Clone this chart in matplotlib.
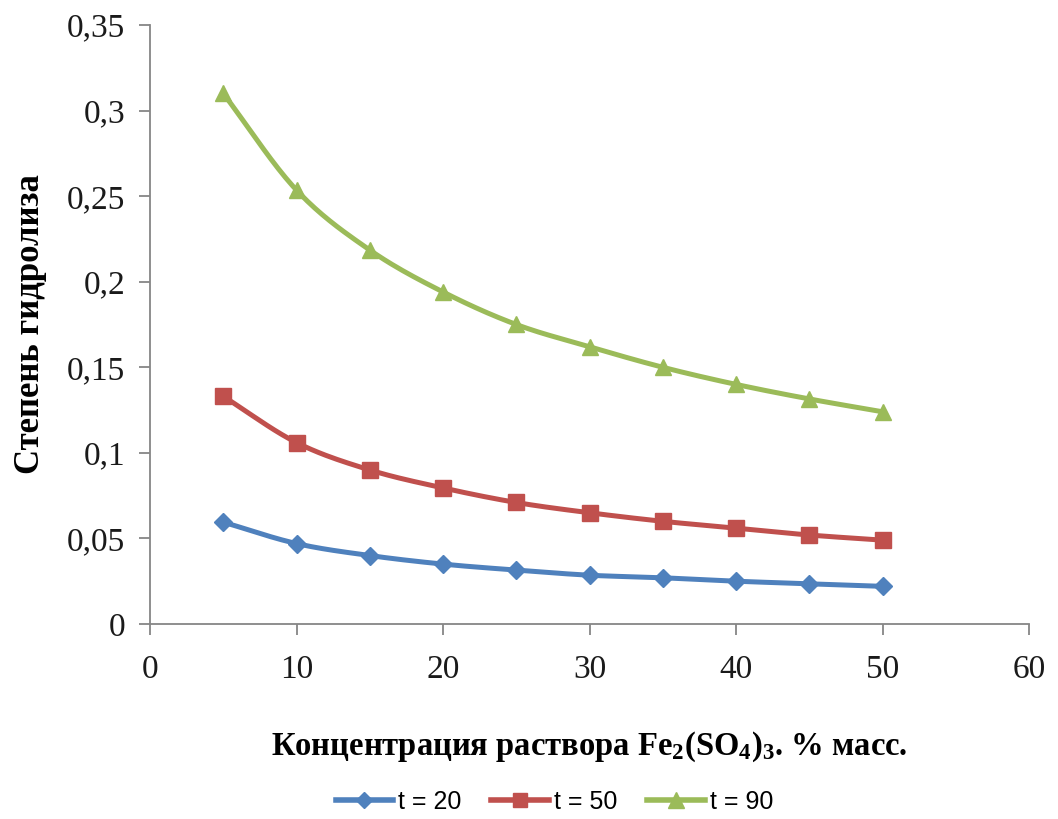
import numpy as np
import matplotlib
matplotlib.use("Agg")
import matplotlib.pyplot as plt
from matplotlib.ticker import FuncFormatter

x = [5, 10, 15, 20, 25, 30, 35, 40, 45, 50]
t20 = [0.0595, 0.047, 0.040, 0.035, 0.0315, 0.0285, 0.027, 0.025, 0.0235, 0.022]
t50 = [0.133, 0.106, 0.090, 0.0795, 0.071, 0.065, 0.060, 0.056, 0.052, 0.049]
t90 = [0.310, 0.2535, 0.2185, 0.194, 0.175, 0.162, 0.150, 0.140, 0.1315, 0.124]
labels = ["t = 20", "t = 50", "t = 90"]
colors = ["#4F81BD", "#C0504D", "#9BBB59"]
markers = ["D", "s", "^"]
msizes = [9, 11, 12]

plt.rcParams["mathtext.fontset"] = "custom"
plt.rcParams["mathtext.rm"] = "Liberation Serif:bold"
plt.rcParams["mathtext.bf"] = "Liberation Serif:bold"
plt.rcParams["mathtext.it"] = "Liberation Serif:bold"
plt.rcParams["mathtext.default"] = "bf"


def smooth(xs, ys, n=20):
    # Catmull-Rom spline through the data points (like Excel's smoothed line)
    xs = np.asarray(xs, float)
    ys = np.asarray(ys, float)
    px = np.concatenate([[2 * xs[0] - xs[1]], xs, [2 * xs[-1] - xs[-2]]])
    py = np.concatenate([[2 * ys[0] - ys[1]], ys, [2 * ys[-1] - ys[-2]]])
    ox, oy = [], []
    for i in range(1, len(px) - 2):
        t = np.linspace(0, 1, n, endpoint=False)
        for arr, out in ((px, ox), (py, oy)):
            p0, p1, p2, p3 = arr[i - 1], arr[i], arr[i + 1], arr[i + 2]
            out.extend(0.5 * ((2 * p1) + (-p0 + p2) * t
                              + (2 * p0 - 5 * p1 + 4 * p2 - p3) * t ** 2
                              + (-p0 + 3 * p1 - 3 * p2 + p3) * t ** 3))
    ox.append(xs[-1])
    oy.append(ys[-1])
    return ox, oy


fig = plt.figure(figsize=(10.58, 8.19), dpi=100)
ax = fig.add_axes([0.1418, 0.2381, 0.8308, 0.7314])

for ys, lab, c, m, ms in zip([t20, t50, t90], labels, colors, markers, msizes):
    sx, sy = smooth(x, ys)
    ax.plot(sx, sy, color=c, lw=3.6, solid_capstyle="round")
    ax.plot(x, ys, ls="none", marker=m, ms=ms, color=c, mec=c)
    ax.plot([], [], color=c, lw=4.0, marker=m, ms=ms * 0.95, label=lab)

ax.set_xlim(0, 60)
ax.set_ylim(0, 0.35)
ax.set_xticks(range(0, 61, 10))
ax.set_yticks(np.arange(0, 0.351, 0.05))
ax.yaxis.set_major_formatter(FuncFormatter(
    lambda v, p: ("%g" % round(v, 2)).replace(".", ",")))

for s in ["top", "right"]:
    ax.spines[s].set_visible(False)
for s in ["left", "bottom"]:
    ax.spines[s].set_color("#868686")
    ax.spines[s].set_linewidth(1.3)
ax.tick_params(axis="both", color="#868686", width=1.3, length=8,
               labelsize=24, labelcolor="#1a1a1a")
ax.tick_params(axis="x", pad=14)
ax.tick_params(axis="y", pad=10)
for lab in ax.get_xticklabels() + ax.get_yticklabels():
    lab.set_family("Liberation Serif")

ax.set_ylabel("Степень гидролиза", fontsize=25, fontweight="bold",
              family="Liberation Serif", labelpad=14)
ax.set_xlabel("Концентрация раствора Fe$_2$(SO$_4$)$_3$. % масс.",
              fontsize=23.5, fontweight="bold", family="Liberation Serif",
              labelpad=32)

leg = fig.legend(loc="center", bbox_to_anchor=(0.524, 0.021), ncol=3,
                 frameon=False, prop={"family": "Liberation Sans", "size": 18},
                 handlelength=2.3, handletextpad=0.2, columnspacing=1.2)

fig.savefig("out.png", dpi=100, facecolor="white")
